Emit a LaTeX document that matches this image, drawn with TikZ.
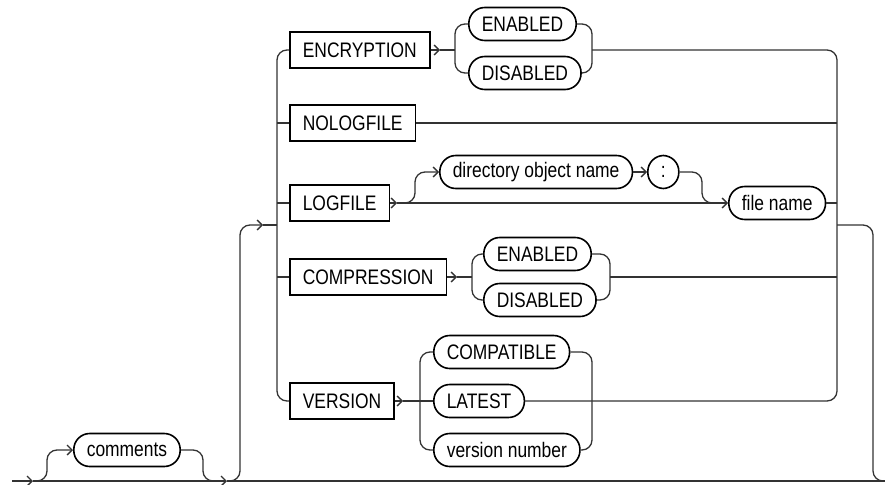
\documentclass[tikz,border=0pt]{standalone}
\usepackage{fontspec}
\newfontfamily\railfont{Liberation Sans}[FakeStretch=0.83]
\usetikzlibrary{arrows.meta}
\definecolor{raildark}{gray}{0.2}
\tikzset{
  keyword/.style={
    rectangle, draw=black, line width=1.6pt, anchor=west,
    minimum height=36pt, inner xsep=13pt, inner ysep=0pt,
    font=\railfont\fontsize{21}{24}\selectfont
  },
  term/.style={keyword, rounded corners=16pt, minimum height=33pt},
  rail/.style={draw=raildark, line width=1.3pt, rounded corners=10pt},
  tip/.style={-{Straight Barb[length=5pt,width=10pt]}}
}
\begin{document}
\begin{tikzpicture}[x=1pt, y=-1pt]
  \useasboundingbox (0,0) rectangle (885,484);

  % keywords
  \node[keyword] (encr)  at (289,50)  {ENCRYPTION};
  \node[keyword] (nolog) at (289,123) {NOLOGFILE};
  \node[keyword] (logf)  at (289,203) {LOGFILE};
  \node[keyword] (compr) at (289,277) {COMPRESSION};
  \node[keyword] (vers)  at (289,401) {VERSION};

  % terms
  \node[term] (cmt)    at (73,450)  {comments};
  \node[term] (encon)  at (468,24)  {ENABLED};
  \node[term] (encoff) at (468,73)  {DISABLED};
  \node[term] (dirobj) at (439,172) {directory object name};
  \node[term, minimum width=31pt, inner xsep=0pt] (colon) at (647,172) {:};
  \node[term] (fname)  at (728,203) {file name};
  \node[term] (cmpon)  at (483,254) {ENABLED};
  \node[term] (cmpoff) at (483,300) {DISABLED};
  \node[term] (compat) at (433,352) {COMPATIBLE};
  \node[term] (latest) at (433,401) {LATEST};
  \node[term] (vnum)   at (433,450) {version number};

  % rail positions
  \coordinate (start) at (12,481);
  \coordinate (fin)   at (885,481);
  \coordinate (t1)    at (33,481);
  \coordinate (t2)    at (227,481);
  \coordinate (xcin)  at (47,0);
  \coordinate (xcout) at (203,0);
  \coordinate (xloop) at (240,0);
  \coordinate (xl)    at (277,0);
  \coordinate (xr)    at (837,0);
  \coordinate (xout)  at (873,0);
  \coordinate (entry) at (263,225);
  \coordinate (exit)  at (837,225);
  \coordinate (ea) at (440,50);  \coordinate (el) at (455,50);  \coordinate (er) at (592,50);
  \coordinate (la) at (397,203); \coordinate (lrise) at (415,0); \coordinate (lfall) at (702,0);
  \coordinate (ca) at (457,277); \coordinate (cl) at (472,277); \coordinate (cr) at (610,277);
  \coordinate (va) at (403,401); \coordinate (vl) at (420,0);   \coordinate (vr) at (592,0);

  % main line and optional comments
  \draw[rail, tip] (start) -- (t1);
  \draw[rail, tip] (t1) -- (t2);
  \draw[rail] (t2) -- (fin);
  \draw[rail, tip] (t1) -- (xcin |- t1) -- (xcin |- cmt) -- (cmt.west);
  \draw[rail] (cmt.east) -- (xcout |- cmt) -- (xcout |- t1) -- ++(14,0);

  % into and out of the choice
  \draw[rail, tip] (t2) -- (xloop |- t2) -- (xloop |- entry) -- (entry);
  \draw[rail] (entry) -- (xl |- entry);
  \draw[rail] (exit) -- (xout |- exit) -- (xout |- fin) -- (fin);

  % outer rails
  \draw[rail] (encr.west) -- (xl |- encr) -- (xl |- vers) -- (vers.west);
  \foreach \n in {nolog, logf, compr}
    \draw[rail] (xl |- \n) -- (\n.west);
  \draw[rail] (er) -- (xr |- er) -- (xr |- vers) -- (latest.east);

  % ENCRYPTION
  \draw[rail, tip] (encr.east) -- (ea);
  \draw[rail] (ea) -- (el);
  \draw[rail] (encon.west) -- (el |- encon) -- (el |- encoff) -- (encoff.west);
  \draw[rail] (encon.east) -- (er |- encon) -- (er |- encoff) -- (encoff.east);

  % NOLOGFILE
  \draw[rail] (nolog.east) -- (xr |- nolog);

  % LOGFILE
  \draw[rail, tip] (logf.east) -- (la);
  \draw[rail, tip] (la) -- (fname.west);
  \draw[rail, tip] (la) -- (lrise |- la) -- (lrise |- dirobj) -- (dirobj.west);
  \draw[rail, tip] (dirobj.east) -- (colon.west);
  \draw[rail] (colon.east) -- (lfall |- colon) -- (lfall |- fname) -- ++(12,0);
  \draw[rail] (fname.east) -- (xr |- fname);

  % COMPRESSION
  \draw[rail, tip] (compr.east) -- (ca);
  \draw[rail] (ca) -- (cl);
  \draw[rail] (cmpon.west) -- (cl |- cmpon) -- (cl |- cmpoff) -- (cmpoff.west);
  \draw[rail] (cmpon.east) -- (cr |- cmpon) -- (cr |- cmpoff) -- (cmpoff.east);
  \draw[rail] (cr) -- (xr |- cr);

  % VERSION
  \draw[rail, tip] (vers.east) -- (va);
  \draw[rail] (va) -- (latest.west);
  \draw[rail] (compat.west) -- (vl |- compat) -- (vl |- vnum) -- (vnum.west);
  \draw[rail] (compat.east) -- (vr |- compat) -- (vr |- vnum) -- (vnum.east);
\end{tikzpicture}
\end{document}
